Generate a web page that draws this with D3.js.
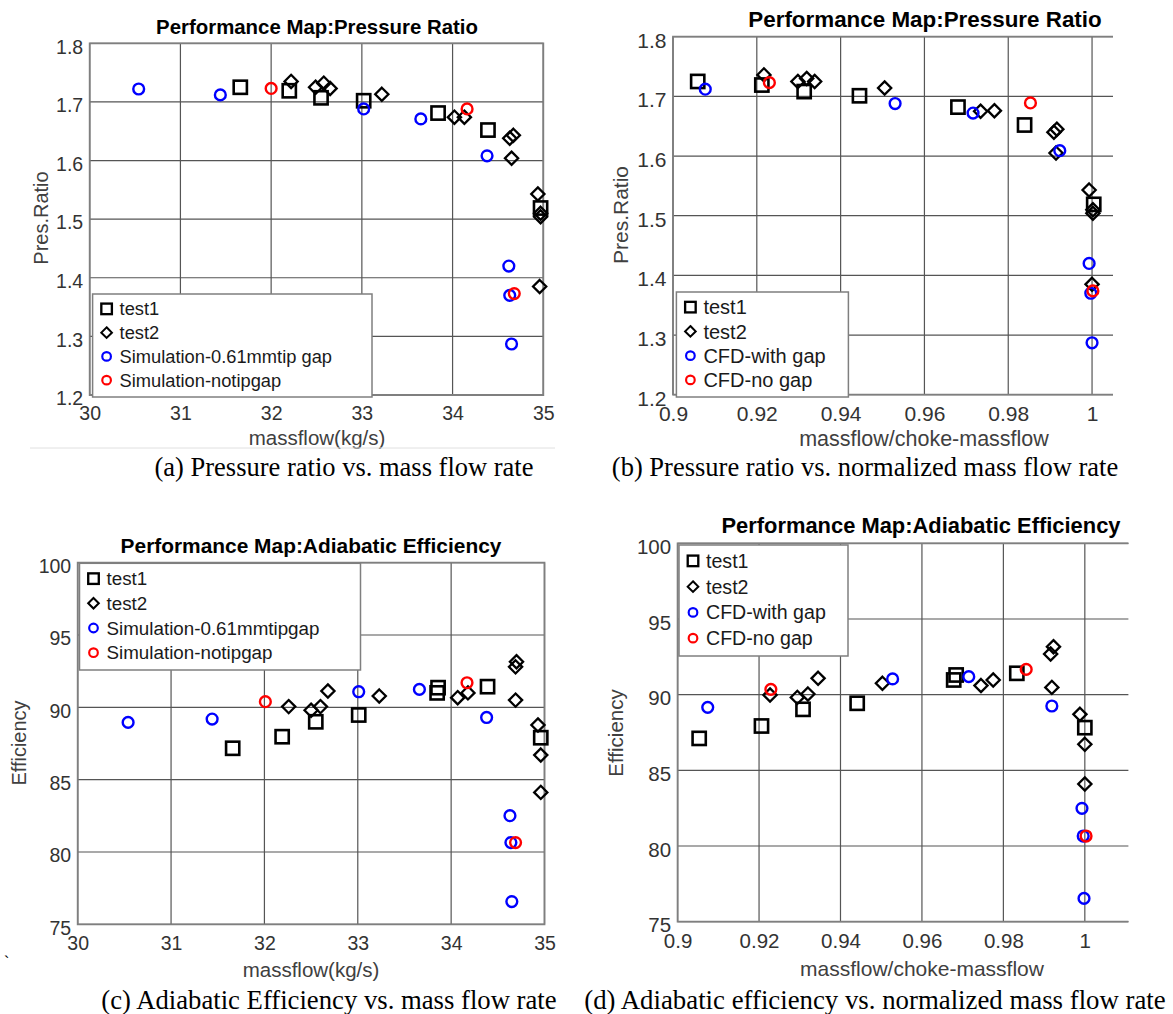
<!DOCTYPE html>
<html lang="en">
<head>
    <meta charset="UTF-8">
    <title>Performance Maps</title>
    <script src="https://d3js.org/d3.v7.min.js"></script>
    <style>
        body { margin: 0; background: #fff; }
        svg { display: block; }
        text { font-family: "Liberation Sans", Arial, sans-serif; }
        .caption { font-family: "Liberation Serif", "Times New Roman", serif; }
    </style>
</head>
<body>
    <svg id="chart" width="1173" height="1014"></svg>

    <script>
        // tick values
        const massflowTicks = [30, 31, 32, 33, 34, 35];
        const normTicks = [0.9, 0.92, 0.94, 0.96, 0.98, 1];
        const prTicks = [1.2, 1.3, 1.4, 1.5, 1.6, 1.7, 1.8];
        const effTicks = [75, 80, 85, 90, 95, 100];

        // legend entries
        const legendA = ["test1", "test2", "Simulation-0.61mmtip gap", "Simulation-notipgap"];
        const legendC = ["test1", "test2", "Simulation-0.61mmtipgap", "Simulation-notipgap"];
        const legendCfd = ["test1", "test2", "CFD-with gap", "CFD-no gap"];

        const titles = ["Performance Map:Pressure Ratio", "Performance Map:Pressure Ratio",
                        "Performance Map:Adiabatic Efficiency", "Performance Map:Adiabatic Efficiency"];
        const captions = ["(a) Pressure ratio vs. mass flow rate",
                          "(b) Pressure ratio vs. normalized mass flow rate",
                          "(c) Adiabatic Efficiency vs. mass flow rate",
                          "(d) Adiabatic efficiency vs. normalized mass flow rate"];

        // (a) pressure ratio vs massflow (kg/s)
        const aTest1 = [[31.66,1.725],[32.20,1.719],[32.55,1.707],[33.02,1.702],[33.84,1.681],[34.39,1.652],[34.97,1.519]];
        const aTest2 = [[32.22,1.735],[32.49,1.725],[32.58,1.732],[32.65,1.723],[33.22,1.713],[34.02,1.674],[34.13,1.674],
                        [34.63,1.638],[34.67,1.643],[34.65,1.604],[34.94,1.543],[34.97,1.510],[34.97,1.504],[34.96,1.385]];
        const aSimGap = [[30.54,1.722],[31.44,1.712],[33.02,1.688],[33.65,1.671],[34.38,1.608],[34.62,1.420],[34.63,1.370],[34.65,1.287]];
        const aSimNoGap = [[32.00,1.723],[34.16,1.688],[34.68,1.373]];

        // (b) pressure ratio vs normalized massflow
        const bTest1 = [[0.9059,1.725],[0.9212,1.719],[0.9313,1.708],[0.9445,1.701],[0.9680,1.682],[0.9839,1.652],[1.0004,1.519]];
        const bTest2 = [[0.9217,1.736],[0.9298,1.725],[0.9319,1.730],[0.9338,1.725],[0.9505,1.714],[0.9734,1.675],[0.9767,1.676],
                        [0.9909,1.640],[0.9916,1.645],[0.9914,1.605],[0.9993,1.543],[1.0002,1.510],[1.0002,1.504],[1.0000,1.385]];
        const bCfdGap = [[0.9077,1.712],[0.9530,1.688],[0.9716,1.672],[0.9923,1.609],[0.9993,1.420],[0.9997,1.370],[1.0000,1.287]];
        const bCfdNoGap = [[0.9230,1.723],[0.9853,1.689],[1.0002,1.374]];

        // (c) efficiency vs massflow (kg/s)
        const cTest1 = [[31.66,87.17],[32.19,87.97],[32.55,89.00],[33.01,89.47],[33.85,91.00],[33.86,91.36],[34.39,91.43],[34.96,87.90]];
        const cTest2 = [[32.26,90.05],[32.50,89.80],[32.60,90.05],[32.68,91.13],[33.23,90.78],[34.07,90.67],[34.18,91.00],
                        [34.69,92.80],[34.70,93.15],[34.69,90.50],[34.93,88.78],[34.96,86.70],[34.96,84.12]];
        const cSimGap = [[30.54,88.96],[31.44,89.19],[33.01,91.08],[33.66,91.24],[34.38,89.30],[34.63,82.51],[34.64,80.65],[34.65,76.57]];
        const cSimNoGap = [[32.01,90.39],[34.17,91.70],[34.69,80.65]];

        // (d) efficiency vs normalized massflow
        const dTest1 = [[0.9053,87.11],[0.9206,87.93],[0.9308,89.03],[0.9441,89.43],[0.9678,90.97],[0.9684,91.30],[0.9833,91.41],[1.0000,87.82]];
        const dTest2 = [[0.9227,89.98],[0.9294,89.82],[0.9320,90.04],[0.9345,91.08],[0.9503,90.75],[0.9745,90.60],[0.9775,90.97],
                        [0.9916,92.69],[0.9923,93.17],[0.9919,90.48],[0.9988,88.70],[1.0000,86.72],[1.0000,84.10]];
        const dCfdGap = [[0.9074,89.16],[0.9528,91.04],[0.9715,91.19],[0.9919,89.25],[0.9993,82.49],[0.9996,80.66],[0.9998,76.54]];
        const dCfdNoGap = [[0.9229,90.35],[0.9856,91.67],[1.0003,80.66]];

        const svg = d3.select("#chart");
        const fmt = d3.format("~g");

        // layout of the four panels; f = [tick, axis label, legend, title, caption] font sizes
        const panels = [
            { box: [89.7, 543.3, 43.3, 395], xDom: [30, 35], yDom: [1.2, 1.8], xTicks: massflowTicks, yTicks: prTicks,
              f: [19.5, 20.5, 18.3, 20.4, 26.5],
              rightBorder: true, title: titles[0], titleX: 317, titleY: 27, xLabel: "massflow(kg/s)", xLabelX: 317, xLabelY: 438,
              yLabel: "Pres.Ratio", yLabelX: 41, yLabelY: 218, legend: legendA, leg: [92.6, 294, 279.4, 103],
              caption: captions[0], capX: 344, capY: 467, series: [aTest1, aTest2, aSimGap, aSimNoGap] },
            { box: [673, 1113, 36.7, 394.7], xDom: [0.9, 1.005], yDom: [1.2, 1.8], xTicks: normTicks, yTicks: prTicks,
              f: [21, 21.5, 20, 22.4, 26.5],
              rightBorder: false, title: titles[1], titleX: 925, titleY: 19, xLabel: "massflow/choke-massflow", xLabelX: 924, xLabelY: 438,
              yLabel: "Pres.Ratio", yLabelX: 620, yLabelY: 215, legend: legendCfd, leg: [676.4, 292, 172, 105],
              caption: captions[1], capX: 865, capY: 467, series: [bTest1, bTest2, bCfdGap, bCfdNoGap] },
            { box: [77.7, 544.5, 562.7, 924.3], xDom: [30, 35], yDom: [75, 100], xTicks: massflowTicks, yTicks: effTicks,
              f: [19.5, 20.5, 18.8, 20.9, 26.7],
              rightBorder: true, title: titles[2], titleX: 311, titleY: 545, xLabel: "massflow(kg/s)", xLabelX: 311, xLabelY: 970,
              yLabel: "Efficiency", yLabelX: 19, yLabelY: 743, legend: legendC, leg: [79.5, 563.3, 281, 106.7],
              caption: captions[2], capX: 329, capY: 1000, series: [cTest1, cTest2, cSimGap, cSimNoGap] },
            { box: [677.6, 1128.4, 543.3, 921.7], xDom: [0.9, 1.0107], yDom: [75, 100], xTicks: normTicks, yTicks: effTicks,
              f: [20.5, 21, 19.6, 21.9, 26.8],
              rightBorder: false, title: titles[3], titleX: 921, titleY: 525, xLabel: "massflow/choke-massflow", xLabelX: 922, xLabelY: 968,
              yLabel: "Efficiency", yLabelX: 616, yLabelY: 733, legend: legendCfd, leg: [679, 545, 169, 111],
              caption: captions[3], capX: 875, capY: 1000, series: [dTest1, dTest2, dCfdGap, dCfdNoGap] }
        ];

        const markerStyle = [
            { shape: "square", stroke: "#000", width: 2.6 },
            { shape: "diamond", stroke: "#000", width: 2.3 },
            { shape: "circle", stroke: "#0000ff", width: 2.4 },
            { shape: "circle", stroke: "#ff0000", width: 2.4 }
        ];

        function drawMarker(g, shape, cx, cy, style, scale) {
            const k = scale || 1;
            let el;
            if (shape === "square") {
                const s = 6.6 * k;
                el = g.append("rect").attr("x", cx - s).attr("y", cy - s).attr("width", 2 * s).attr("height", 2 * s);
            } else if (shape === "diamond") {
                const h = 6.6 * k;
                el = g.append("path").attr("d", `M${cx},${cy - h}L${cx + h},${cy}L${cx},${cy + h}L${cx - h},${cy}Z`);
            } else {
                el = g.append("circle").attr("cx", cx).attr("cy", cy).attr("r", 5.4 * k);
            }
            el.attr("fill", "none").attr("stroke", style.stroke).attr("stroke-width", style.width * (k < 1 ? 0.9 : 1));
        }

        panels.forEach(p => {
            const [x0, x1, y0, y1] = p.box;
            const [fTick, fLabel, fLeg, fTitle, fCap] = p.f;
            const x = d3.scaleLinear().domain(p.xDom).range([x0, x1]);
            const y = d3.scaleLinear().domain(p.yDom).range([y1, y0]);
            const g = svg.append("g");

            // grid
            g.append("g").selectAll("line").data(p.xTicks).join("line")
                .attr("x1", d => x(d)).attr("x2", d => x(d)).attr("y1", y0).attr("y2", y1)
                .attr("stroke", "#555").attr("stroke-width", 1.2);
            g.append("g").selectAll("line").data(p.yTicks).join("line")
                .attr("x1", x0).attr("x2", x1).attr("y1", d => y(d)).attr("y2", d => y(d))
                .attr("stroke", "#555").attr("stroke-width", 1.2);

            // axes box
            const border = `M${x1},${y0}L${x0},${y0}L${x0},${y1}L${x1},${y1}` + (p.rightBorder ? "Z" : "");
            g.append("path").attr("d", border).attr("fill", "none").attr("stroke", "#7f7f7f").attr("stroke-width", 1.8);

            // tick labels
            g.append("g").attr("transform", `translate(0,${y1})`)
                .call(d3.axisBottom(x).tickValues(p.xTicks).tickFormat(fmt).tickSize(0).tickPadding(11.5))
                .call(a => a.select(".domain").remove())
                .selectAll("text").attr("font-size", fTick).attr("fill", "#333")
                .style("font-family", "'Liberation Sans', Arial, sans-serif");
            g.append("g").attr("transform", `translate(${x0},0)`)
                .call(d3.axisLeft(y).tickValues(p.yTicks).tickFormat(fmt).tickSize(0).tickPadding(6.5))
                .call(a => a.select(".domain").remove())
                .selectAll("text").attr("font-size", fTick).attr("fill", "#333").attr("dy", "0.5em")
                .style("font-family", "'Liberation Sans', Arial, sans-serif");

            // markers
            p.series.forEach((pts, i) => {
                const st = markerStyle[i];
                const mg = g.append("g");
                pts.forEach(d => drawMarker(mg, st.shape, x(d[0]), y(d[1]), st));
            });

            // legend
            const [lx, ly, lw, lh] = p.leg;
            const lg = g.append("g");
            lg.append("rect").attr("x", lx).attr("y", ly).attr("width", lw).attr("height", lh)
                .attr("fill", "#fff").attr("stroke", "#7f7f7f").attr("stroke-width", 1.5);
            const rowH = (lh - 8) / 4;
            p.legend.forEach((name, i) => {
                const cy = ly + 4 + rowH * (i + 0.5) - 1;
                drawMarker(lg, markerStyle[i].shape, lx + 14, cy, markerStyle[i], 0.8);
                lg.append("text").attr("x", lx + 27).attr("y", cy).attr("dy", "0.36em")
                    .attr("font-size", fLeg).attr("fill", "#1a1a1a").text(name);
            });

            // title and labels
            g.append("text").attr("x", p.titleX).attr("y", p.titleY).attr("dy", "0.36em")
                .attr("text-anchor", "middle").attr("font-size", fTitle).attr("font-weight", "bold")
                .attr("fill", "#000").text(p.title);
            g.append("text").attr("x", p.xLabelX).attr("y", p.xLabelY).attr("dy", "0.36em")
                .attr("text-anchor", "middle").attr("font-size", fLabel).attr("fill", "#404040").text(p.xLabel);
            g.append("text").attr("transform", `translate(${p.yLabelX},${p.yLabelY}) rotate(-90)`)
                .attr("dy", "0.36em").attr("text-anchor", "middle").attr("font-size", fLabel - 0.5)
                .attr("fill", "#404040").text(p.yLabel);
            g.append("text").attr("class", "caption").attr("x", p.capX).attr("y", p.capY).attr("dy", "0.33em")
                .attr("text-anchor", "middle").attr("font-size", fCap).attr("fill", "#000").text(p.caption);
        });

        // thin separator under panel (a) and stray mark from the source page
        svg.append("line").attr("x1", 30).attr("x2", 555).attr("y1", 448).attr("y2", 448)
            .attr("stroke", "#e0e0e0").attr("stroke-width", 1);
        svg.append("text").attr("x", 4).attr("y", 968).attr("font-size", 16).attr("fill", "#000").text("`");
    </script>
</body>
</html>
